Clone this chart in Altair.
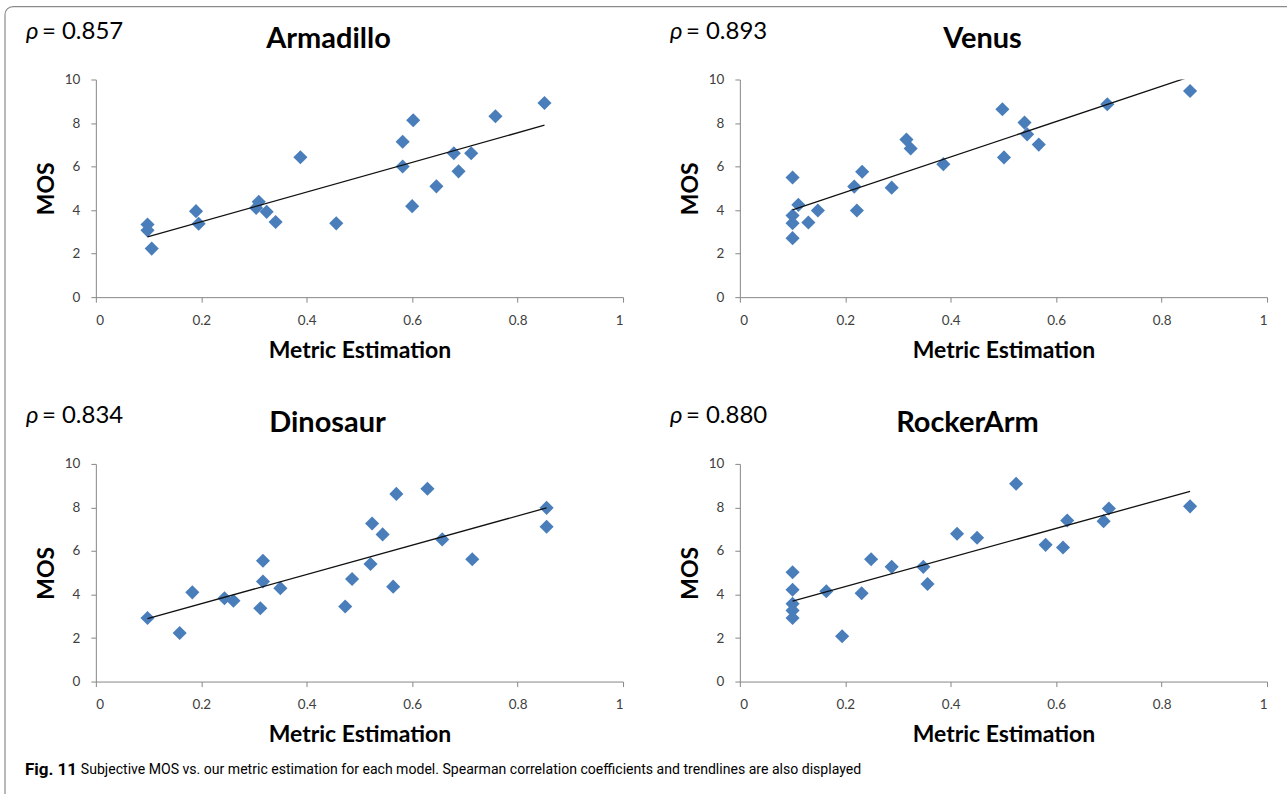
import altair as alt
import pandas as pd

# ---------------- data ----------------
MODELS = ["Armadillo", "Venus", "Dinosaur", "RockerArm"]
RHO = ["= 0.857", "= 0.893", "= 0.834", "= 0.880"]

ARM_X = [0.098, 0.098, 0.106, 0.190, 0.195, 0.304, 0.309, 0.324, 0.341, 0.388, 0.456,
         0.582, 0.582, 0.602, 0.600, 0.646, 0.679, 0.688, 0.712, 0.758, 0.851]
ARM_Y = [3.34, 3.07, 2.23, 3.95, 3.37, 4.10, 4.38, 3.92, 3.45, 6.43, 3.39,
         7.14, 6.00, 8.13, 4.18, 5.09, 6.61, 5.78, 6.61, 8.31, 8.92]
ARM_TX = [0.098, 0.851]
ARM_TY = [2.77, 7.90]

VEN_X = [0.100, 0.111, 0.100, 0.100, 0.100, 0.130, 0.148, 0.217, 0.222, 0.232, 0.288,
         0.316, 0.324, 0.386, 0.498, 0.501, 0.540, 0.545, 0.567, 0.697, 0.854]
VEN_Y = [5.50, 4.24, 3.75, 3.40, 2.71, 3.43, 3.98, 5.08, 3.98, 5.76, 5.03,
         7.24, 6.83, 6.11, 8.63, 6.42, 8.02, 7.48, 7.01, 8.86, 9.47]
VEN_TX = [0.100, 0.854]
VEN_TY = [4.01, 10.13]

DIN_X = [0.098, 0.159, 0.183, 0.244, 0.261, 0.312, 0.317, 0.317, 0.350, 0.473, 0.486,
         0.521, 0.524, 0.544, 0.564, 0.570, 0.629, 0.657, 0.714, 0.855, 0.855]
DIN_Y = [2.92, 2.23, 4.10, 3.83, 3.71, 3.37, 5.55, 4.60, 4.29, 3.45, 4.71,
         5.40, 7.26, 6.76, 4.36, 8.62, 8.86, 6.53, 5.62, 7.98, 7.11]
DIN_TX = [0.098, 0.855]
DIN_TY = [2.89, 7.98]

ROC_X = [0.100, 0.100, 0.100, 0.100, 0.100, 0.164, 0.194, 0.231, 0.249, 0.288, 0.348,
         0.356, 0.412, 0.450, 0.524, 0.580, 0.613, 0.621, 0.690, 0.700, 0.854]
ROC_Y = [5.02, 4.22, 3.57, 3.27, 2.92, 4.15, 2.08, 4.06, 5.62, 5.27, 5.27,
         4.48, 6.79, 6.61, 9.09, 6.28, 6.16, 7.40, 7.37, 7.95, 8.05]
ROC_TX = [0.100, 0.854]
ROC_TY = [3.69, 8.74]

X_TICKS = [0, 0.2, 0.4, 0.6, 0.8, 1]
Y_TICKS = [0, 2, 4, 6, 8, 10]
X_TITLE = "Metric Estimation"
Y_TITLE = "MOS"
CAPTION_BOLD = "Fig. 11"
CAPTION = ("Subjective MOS vs. our metric estimation for each model. "
           "Spearman correlation coefficients and trendlines are also displayed")

# ---------------- style ----------------
W, H = 528, 218
BLUE = "#4A7EBB"
AXIS_GRAY = "#878787"
FONT = "Lato"
CAP_FONT = "Roboto"
TITLE_DX = [233, 243, 232, 228]


def panel(i, xs, ys, tx, ty, extras=False):
    pts = pd.DataFrame({"x": xs, "y": ys})
    tr = pd.DataFrame({"x": tx, "y": ty})
    xenc = alt.X("x:Q", scale=alt.Scale(domain=[0, 1], nice=False, zero=False),
                 axis=alt.Axis(values=X_TICKS, format="~g", title=X_TITLE, grid=False,
                               tickSize=5, labelPadding=11, titlePadding=13))
    yenc = alt.Y("y:Q", scale=alt.Scale(domain=[0, 10], nice=False),
                 axis=alt.Axis(values=Y_TICKS, format="d", title=Y_TITLE, grid=False,
                               tickSize=5, labelPadding=11, titlePadding=6))
    points = alt.Chart(pts).mark_point(shape="diamond", filled=True, size=200,
                                       color=BLUE, opacity=1).encode(x=xenc, y=yenc)
    line = alt.Chart(tr).mark_line(color="#111111", strokeWidth=1.3, clip=True).encode(
        x="x:Q", y="y:Q")
    title = alt.Chart(pd.DataFrame({"t": [MODELS[i]]})).mark_text(
        font=FONT, fontSize=29, fontWeight="bold", color="black", align="center",
        baseline="middle").encode(text="t:N", x=alt.value(TITLE_DX[i]), y=alt.value(-41))
    rho_sym = alt.Chart(pd.DataFrame({"t": ["\u03c1"]})).mark_text(
        font=FONT, fontSize=24, fontStyle="italic", color="black", align="left",
        baseline="middle").encode(text="t:N", x=alt.value(-70), y=alt.value(-48))
    rho_val = alt.Chart(pd.DataFrame({"t": [RHO[i]]})).mark_text(
        font=FONT, fontSize=24, color="black", align="left",
        baseline="middle").encode(text="t:N", x=alt.value(-54), y=alt.value(-48))
    layers = [points, line, title, rho_sym, rho_val]
    if extras:
        left = alt.Chart(pd.DataFrame({"a": [0]})).mark_rule(color="#8a8a8a", strokeWidth=1.2).encode(
            x=alt.value(-91), y=alt.value(-65), y2=alt.value(716))
        top = alt.Chart(pd.DataFrame({"a": [0]})).mark_rule(color="#8a8a8a", strokeWidth=1.2).encode(
            x=alt.value(-83), x2=alt.value(1193), y=alt.value(-73))
        corner = alt.Chart(pd.DataFrame({"a": [0]})).mark_arc(
            color="#8a8a8a", theta=4.712, theta2=6.283, radius=8.6, radius2=7.4).encode(
            x=alt.value(-83), y=alt.value(-65))
        cap_b = alt.Chart(pd.DataFrame({"t": [CAPTION_BOLD]})).mark_text(
            font=CAP_FONT, fontSize=17, fontWeight="bold", color="black", align="left",
            baseline="middle").encode(text="t:N", x=alt.value(-71), y=alt.value(692))
        cap = alt.Chart(pd.DataFrame({"t": [CAPTION]})).mark_text(
            font=CAP_FONT, fontSize=14.1, color="black", align="left",
            baseline="middle").encode(text="t:N", x=alt.value(-15), y=alt.value(692))
        layers += [left, top, corner, cap_b, cap]
    return alt.layer(*layers).properties(width=W, height=H)


p1 = panel(0, ARM_X, ARM_Y, ARM_TX, ARM_TY, extras=True)
p2 = panel(1, VEN_X, VEN_Y, VEN_TX, VEN_TY)
p3 = panel(2, DIN_X, DIN_Y, DIN_TX, DIN_TY)
p4 = panel(3, ROC_X, ROC_Y, ROC_TX, ROC_TY)

chart = alt.concat(p1, p2, p3, p4, columns=2, spacing={"row": 167, "column": 117},
                   bounds="flush").properties(
    padding={"left": 4, "top": 5, "right": 0, "bottom": 0}
).configure_view(stroke=None).configure_axis(
    domainColor=AXIS_GRAY, tickColor=AXIS_GRAY, labelColor="#404040",
    labelFont=FONT, labelFontSize=13.5, titleFont=FONT, titleFontSize=23,
    titleFontWeight="bold", titleColor="black"
)

chart.save("out.html", embed_options={"renderer": "svg", "actions": False})
